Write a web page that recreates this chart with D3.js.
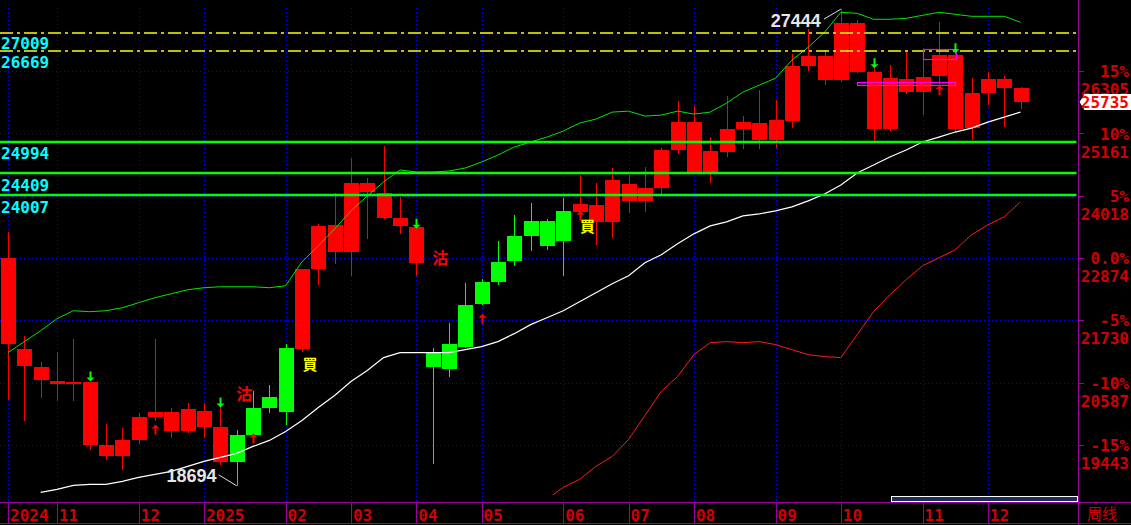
<!DOCTYPE html>
<html>
<head>
<meta charset="utf-8">
<script src="https://cdn.jsdelivr.net/npm/d3@7"></script>
<style>
  html, body { margin: 0; padding: 0; background: #000; overflow: hidden; }
  svg { display: block; }
</style>
</head>
<body>
<svg id="chart" width="1131" height="525"></svg>
<script>
// weekly bars, week ending Friday 2024-10-11 .. 2025-12-19
const firstWeek = new Date(2024, 9, 11);
const lastWeek = new Date(2025, 11, 19);

const open  = [22879,21212,20883,20626,20558,20608,19435,19239,19532,19954,20040,19697,20076,19765,19129,19624,20119,20045,21212,22683,23484,22977,24253,24070,23612,23442,20870,20846,21236,22024,22427,22812,23282,23557,23196,23728,23850,23544,24235,23929,24167,24858,25371,24460,24827,25243,25353,25047,25395,26402,26580,26146,27185,26287,25248,26159,25926,26219,26598,25267,25902,26159,25994];
const high  = [23350,21450,20974,21145,21396,20608,19820,19747,20027,21396,20119,20205,20205,20137,19723,20430,20553,21291,22678,23502,24065,24711,24351,24931,23991,23576,21231,21689,22416,22489,23185,23667,23887,23594,23973,24400,24253,24528,24400,24547,24895,25756,25664,25096,25847,25481,25957,25774,26630,27075,26690,27444,27245,26452,26415,26659,26659,27203,26640,26177,26287,26214,26012];
const low   = [20265,19880,20302,20247,20247,19349,19166,18983,19454,19875,19576,19661,19564,19074,18694,19485,20022,19807,21152,22372,22757,22537,23233,23600,23325,22537,19087,20699,21220,22010,22372,22733,23013,23026,22537,23720,23118,23251,23709,23728,24057,24785,24440,24259,24735,24882,24882,24900,25267,26305,26054,26109,26270,25028,25212,25884,25505,26050,25193,25047,25688,25285,25609];
const close = [21291,20888,20632,20558,20608,19441,19239,19527,19948,20040,19697,20095,19771,19129,19618,20113,20333,21231,22678,23466,22977,24253,24094,23618,23471,22793,21157,21304,22018,22440,22806,23282,23557,23105,23740,23869,23544,24308,23929,24162,24858,25371,24460,24840,25243,25371,25047,25408,26397,26580,26146,27185,26292,25248,26177,25926,26195,26598,25248,25902,26159,25999,25735];
// 1 = red bar, 0 = green bar (signal state)
const trend = [1,1,1,1,1,1,1,1,1,1,1,1,1,1,0,0,0,0,1,1,1,1,1,1,1,1,0,0,0,0,0,0,0,0,0,1,1,1,1,1,1,1,1,1,1,1,1,1,1,1,1,1,1,1,1,1,1,1,1,1,1,1,1];

// indicator lines (start index, values)
const upperStart = 0;
const upperLine = [21139,21341,21542,21762,21908,21890,21908,21963,22055,22147,22220,22293,22330,22348,22348,22348,22330,22366,22806,23099,23411,23740,24015,24272,24492,24455,24455,24473,24528,24638,24766,24913,25005,25096,25206,25353,25426,25554,25572,25481,25499,25572,25518,25554,25719,25921,26049,26177,26507,26745,27020,27386,27368,27258,27258,27276,27331,27386,27350,27313,27313,27313,27203];
const midStart = 2;
const midLine = [18574,18629,18702,18720,18720,18776,18849,18904,18959,19051,19142,19215,19289,19417,19527,19692,19893,20131,20351,20608,20809,21047,21139,21139,21139,21139,21194,21249,21341,21487,21652,21780,21908,22073,22238,22403,22550,22788,22934,23136,23319,23466,23539,23649,23686,23740,23814,23924,24052,24217,24437,24583,24730,24858,25005,25096,25188,25261,25371,25463,25554];
const lowerStart = 33;
const lowerLine = [18446,18666,18812,19051,19234,19545,19985,20425,20699,21102,21322,21341,21322,21341,21286,21194,21102,21066,21047,21469,21890,22202,22476,22733,22879,23026,23301,23484,23631,23905];

// axis
const basePrice = 22874;
const pctLevels = [15, 10, 5, 0, -5, -10, -15];
const pctLabels = ["15%", "10%", "5%", "0.0%", "-5%", "-10%", "-15%"];
const priceLabels = ["26305", "25161", "24018", "22874", "21730", "20587", "19443"];

// drawn levels
const resistLevels = [27009, 26669];
const supportLevels = [24994, 24409, 24007];

// signals
const downArrowIdx = [5, 13, 25, 53, 58];
const downArrowPx = [20608, 20131, 23411, 26360, 26635];
const upArrowIdx = [9, 15, 29, 35, 57];
const upArrowPx = [19820, 19655, 21854, 23741, 26049];
const buyIdx = [18, 35];
const buyPx = [20928, 23457];
const sellIdx = [13, 25];
const sellPx = [20370, 22880];
const boxFrom = [52, 56];
const boxTo = [58, 58];
const boxHi = [26104, 26708];
const boxLo = [26049, 26525];

const lastPrice = 25735;
const hiIdx = 51, loIdx = 14;

const weeks = d3.timeFriday.range(firstWeek, d3.timeDay.offset(lastWeek, 1));
const n = weeks.length;

const svg = d3.select("#chart");
const W = 1131, H = 525;
const axisX = 1078.5, axisY = 502.5;
const purple = "#9a009a", labelRed = "#d00000";
const mono = "'DejaVu Sans Mono', monospace";

const x = d3.scaleLinear().domain([0, n - 1]).range([8, 1020.5]);
const y = d3.scaleLinear().domain([basePrice * 0.85, basePrice * 1.15]).range([445, 71.2]);
const px = v => Math.round(v) + 0.5;

svg.append("rect").attr("width", W).attr("height", H).attr("fill", "#000");

svg.append("defs").append("clipPath").attr("id", "plot")
  .append("rect").attr("x", 0).attr("y", 0).attr("width", axisX - 1).attr("height", 495);

// month ticks from the week dates
const ticks = [];
weeks.forEach((d, i) => {
  if (i === 0 || d.getMonth() !== weeks[i - 1].getMonth()) {
    const label = (i === 0 || d.getMonth() === 0) ? String(d.getFullYear()) : d3.format("02d")(d.getMonth() + 1);
    ticks.push({i, label});
  }
});

// grid
const grid = svg.append("g").attr("stroke", "#0000ff").attr("stroke-dasharray", "1,3").attr("stroke-width", 1);
grid.selectAll(".hg").data(pctLevels).enter().append("line")
  .attr("x1", 0).attr("x2", axisX - 2)
  .attr("y1", d => px(y(basePrice * (1 + d / 100)))).attr("y2", d => px(y(basePrice * (1 + d / 100))));
grid.selectAll(".vg").data(ticks).enter().append("line")
  .attr("x1", d => px(x(d.i))).attr("x2", d => px(x(d.i)))
  .attr("y1", 8).attr("y2", axisY);

const plot = svg.append("g").attr("clip-path", "url(#plot)");

// candles
const colorOf = i => trend[i] ? "#ff0000" : "#00ff00";
const candles = plot.append("g").attr("shape-rendering", "crispEdges");
candles.selectAll(".wick").data(d3.range(n)).enter().append("line")
  .attr("x1", i => px(x(i))).attr("x2", i => px(x(i)))
  .attr("y1", i => y(high[i])).attr("y2", i => y(low[i]))
  .attr("stroke", colorOf).attr("stroke-width", 1);
candles.selectAll(".body").data(d3.range(n)).enter().append("rect")
  .attr("x", i => Math.round(x(i)) - 7)
  .attr("width", 15)
  .attr("y", i => y(Math.max(open[i], close[i])))
  .attr("height", i => Math.max(1.5, Math.abs(y(open[i]) - y(close[i]))))
  .attr("fill", colorOf);

// indicator lines
const lineGen = start => d3.line().x((d, k) => x(start + k)).y(d => y(d));
plot.append("path").attr("d", lineGen(upperStart)(upperLine))
  .attr("fill", "none").attr("stroke", "#00e600").attr("stroke-width", 1);
plot.append("path").attr("d", lineGen(midStart)(midLine))
  .attr("fill", "none").attr("stroke", "#ffffff").attr("stroke-width", 1.2);
plot.append("path").attr("d", lineGen(lowerStart)(lowerLine))
  .attr("fill", "none").attr("stroke", "#ff1a1a").attr("stroke-width", 1);

// level lines
svg.selectAll(".res").data(resistLevels).enter().append("line")
  .attr("x1", 0).attr("x2", axisX - 2)
  .attr("y1", d => Math.round(y(d))).attr("y2", d => Math.round(y(d)))
  .attr("stroke", "#ffff00").attr("stroke-width", 1.5).attr("stroke-dasharray", "13,4,3,4");
svg.selectAll(".sup").data(supportLevels).enter().append("line")
  .attr("x1", 0).attr("x2", axisX - 2)
  .attr("y1", d => Math.round(y(d)) - 1).attr("y2", d => Math.round(y(d)) - 1)
  .attr("stroke", "#00ff00").attr("stroke-width", 2.5);

const levelText = resistLevels.concat(supportLevels);
svg.selectAll(".lvl").data(levelText).enter().append("text")
  .attr("x", 1).attr("y", d => y(d) + 16.5)
  .attr("fill", "#00ffff").attr("font-family", mono).attr("font-weight", "bold").attr("font-size", 16)
  .text(d => d);

// boxes
svg.selectAll(".box").data(boxFrom).enter().append("rect")
  .attr("x", (d, k) => px(x(d)))
  .attr("width", (d, k) => Math.round(x(boxTo[k]) - x(d)))
  .attr("y", (d, k) => px(y(boxHi[k])))
  .attr("height", (d, k) => Math.max(3, Math.round(y(boxLo[k]) - y(boxHi[k]))))
  .attr("fill", "none").attr("stroke", "#ff00ff").attr("stroke-width", 1.2);

// arrows
const downArrow = (cx, ty) => `M${cx - 4},${ty - 4}L${cx + 4},${ty - 4}L${cx},${ty}Z M${cx - 1},${ty - 10}h2v6h-2Z`;
const upArrow = (cx, ty) => `M${cx - 4},${ty + 4}L${cx + 4},${ty + 4}L${cx},${ty}Z M${cx - 1},${ty + 4}h2v6h-2Z`;
svg.selectAll(".da").data(downArrowIdx).enter().append("path")
  .attr("d", (d, k) => downArrow(Math.round(x(d)) + 0.5, y(downArrowPx[k])))
  .attr("fill", "#00ff00");
svg.selectAll(".ua").data(upArrowIdx).enter().append("path")
  .attr("d", (d, k) => upArrow(Math.round(x(d)) + 0.5, y(upArrowPx[k])))
  .attr("fill", "#ff0000");

// signal words
const cjk = "'Noto Sans CJK TC', 'Noto Sans CJK SC', sans-serif";
svg.selectAll(".buy").data(buyIdx).enter().append("text")
  .attr("x", d => x(d) + 8).attr("y", (d, k) => y(buyPx[k]) + 6)
  .attr("text-anchor", "middle").attr("fill", "#ffff00")
  .attr("font-family", cjk).attr("font-weight", "bold").attr("font-size", 15).text("買");
svg.selectAll(".sell").data(sellIdx).enter().append("text")
  .attr("x", d => x(d) + 24).attr("y", (d, k) => y(sellPx[k]) + 6)
  .attr("text-anchor", "middle").attr("fill", "#ff0000")
  .attr("font-family", cjk).attr("font-weight", "bold").attr("font-size", 16).text("沽");

// high / low marks
const hx = x(hiIdx), hy = y(high[hiIdx]);
svg.append("line").attr("x1", hx - 17).attr("y1", hy + 10).attr("x2", hx).attr("y2", hy)
  .attr("stroke", "#e0e0e0").attr("stroke-width", 1);
svg.append("text").attr("x", hx - 20).attr("y", hy + 18).attr("text-anchor", "end")
  .attr("fill", "#e6e6e6").attr("font-family", "'Liberation Sans', Arial, sans-serif")
  .attr("font-weight", "bold").attr("font-size", 18).text(high[hiIdx]);
const lx = x(loIdx), ly = y(low[loIdx]);
svg.append("line").attr("x1", lx - 18).attr("y1", ly - 11).attr("x2", lx).attr("y2", ly)
  .attr("stroke", "#e0e0e0").attr("stroke-width", 1);
svg.append("text").attr("x", lx - 20).attr("y", ly - 4).attr("text-anchor", "end")
  .attr("fill", "#e6e6e6").attr("font-family", "'Liberation Sans', Arial, sans-serif")
  .attr("font-weight", "bold").attr("font-size", 18).text(low[loIdx]);

// scroll bar
svg.append("rect").attr("x", 891.5).attr("y", 496.5).attr("width", 186).attr("height", 5)
  .attr("fill", "#1c2c5c").attr("stroke", "#ffffff").attr("stroke-width", 1);

// axes frame
const frame = svg.append("g").attr("stroke", purple).attr("stroke-width", 1).attr("shape-rendering", "crispEdges");
frame.append("line").attr("x1", axisX).attr("x2", axisX).attr("y1", 0).attr("y2", H);
frame.append("line").attr("x1", 0).attr("x2", W).attr("y1", axisY).attr("y2", axisY);
frame.append("line").attr("x1", 0).attr("x2", W).attr("y1", 523.5).attr("y2", 523.5);
frame.selectAll(".mt").data(ticks).enter().append("line")
  .attr("x1", d => px(x(d.i))).attr("x2", d => px(x(d.i)))
  .attr("y1", axisY).attr("y2", 523);
frame.selectAll(".yt").data(pctLevels).enter().append("line")
  .attr("x1", axisX).attr("x2", axisX + 5)
  .attr("y1", d => px(y(basePrice * (1 + d / 100)))).attr("y2", d => px(y(basePrice * (1 + d / 100))));

// month labels
svg.selectAll(".ml").data(ticks).enter().append("text")
  .attr("x", d => x(d.i) + 2).attr("y", 521)
  .attr("fill", labelRed).attr("font-family", mono).attr("font-weight", "bold").attr("font-size", 16)
  .text(d => d.label);
svg.append("text").attr("x", 1087).attr("y", 519)
  .attr("fill", labelRed).attr("font-family", cjk).attr("font-size", 15).text("周线");

// right axis labels
svg.selectAll(".pl").data(pctLevels).enter().append("text")
  .attr("x", 1129).attr("y", d => y(basePrice * (1 + d / 100)) + 6)
  .attr("text-anchor", "end").attr("fill", labelRed)
  .attr("font-family", mono).attr("font-weight", "bold").attr("font-size", 16)
  .text((d, k) => pctLabels[k]);
svg.selectAll(".prl").data(pctLevels).enter().append("text")
  .attr("x", 1129).attr("y", d => y(basePrice * (1 + d / 100)) + 24)
  .attr("text-anchor", "end").attr("fill", labelRed)
  .attr("font-family", mono).attr("font-weight", "bold").attr("font-size", 16)
  .text((d, k) => priceLabels[k]);

// last price tag
const ly2 = Math.round(y(lastPrice));
svg.append("path")
  .attr("d", `M${axisX + 1},${ly2}L${axisX + 6},${ly2 - 8}L1131,${ly2 - 8}L1131,${ly2 + 8}L${axisX + 6},${ly2 + 8}Z`)
  .attr("fill", "#ffffff");
svg.append("text").attr("x", 1129).attr("y", ly2 + 6).attr("text-anchor", "end")
  .attr("fill", "#ff0000").attr("font-family", mono).attr("font-weight", "bold").attr("font-size", 16)
  .text(lastPrice);
</script>
</body>
</html>
